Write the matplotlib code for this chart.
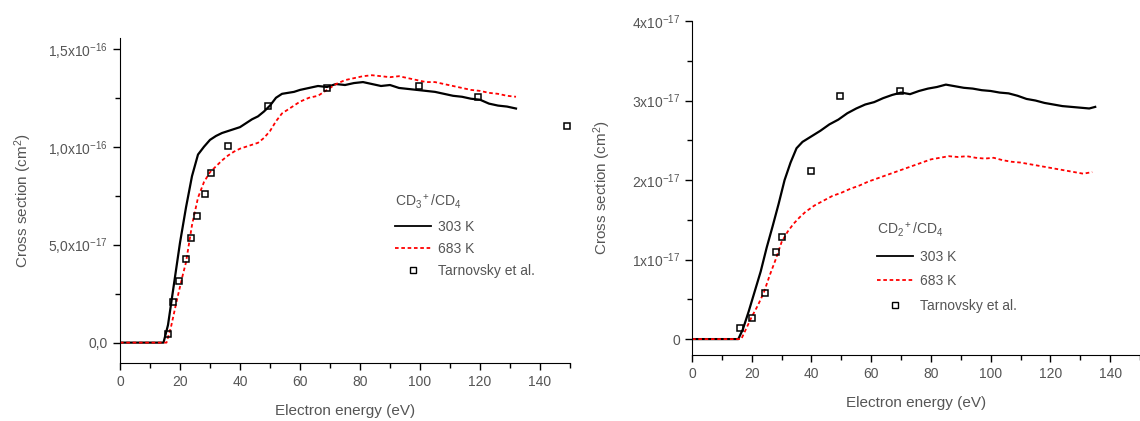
import matplotlib
matplotlib.use("Agg")
from matplotlib import pyplot as plt
from matplotlib.lines import Line2D
import numpy as np

plt.rcParams['font.family'] = ['Liberation Sans', 'DejaVu Sans']
plt.rcParams['mathtext.fontset'] = 'custom'
plt.rcParams['mathtext.rm'] = 'Liberation Sans'
plt.rcParams['mathtext.it'] = 'Liberation Sans'

# ---- CD3+/CD4 (left), cross section in units of 1e-17 cm^2 ----
e_cd3_303 = [0, 5, 10, 14.5, 16, 18, 20, 22, 24, 26, 28, 30, 32, 34, 36, 38, 40, 42, 44, 46, 48,
             50, 52, 54, 56, 58, 60, 63, 66, 69, 72, 75, 78, 81, 84, 87, 90, 93, 96, 99, 102,
             105, 108, 111, 114, 117, 120, 123, 126, 129, 132]
s_cd3_303 = [0, 0, 0, 0, 0.9, 3.0, 5.1, 6.9, 8.5, 9.6, 10.0, 10.35, 10.55, 10.7, 10.8, 10.9, 11.0,
             11.2, 11.4, 11.55, 11.8, 12.1, 12.5, 12.7, 12.75, 12.8, 12.9, 13.0, 13.1, 13.05, 13.2,
             13.15, 13.25, 13.3, 13.2, 13.1, 13.15, 13.0, 12.95, 12.9, 12.85, 12.8, 12.7, 12.6,
             12.55, 12.45, 12.4, 12.2, 12.1, 12.05, 11.95]

e_cd3_683 = [0, 5, 10, 15.5, 17, 19, 21, 22, 24, 26, 28, 30, 32, 34, 36, 38, 40, 42, 44, 46, 48,
             50, 52, 54, 56, 58, 60, 63, 66, 69, 72, 75, 78, 81, 84, 87, 90, 93, 96, 99, 102,
             105, 108, 111, 114, 117, 120, 123, 126, 129, 132]
s_cd3_683 = [0, 0, 0, 0, 0.8, 2.2, 3.5, 4.1, 6.0, 7.4, 8.2, 8.7, 9.0, 9.3, 9.55, 9.75, 9.9, 10.0,
             10.1, 10.2, 10.45, 10.8, 11.3, 11.7, 11.9, 12.1, 12.3, 12.5, 12.6, 12.9, 13.2, 13.4,
             13.5, 13.6, 13.65, 13.6, 13.55, 13.6, 13.5, 13.4, 13.3, 13.3, 13.2, 13.1, 13.0, 12.9,
             12.85, 12.75, 12.7, 12.6, 12.55]

e_cd3_tarn = [16.1, 17.7, 19.7, 21.9, 23.7, 25.6, 28.2, 30.2, 36.0, 49.4, 68.9, 99.7, 119.4, 149.0]
s_cd3_tarn = [0.43, 2.09, 3.16, 4.25, 5.36, 6.46, 7.57, 8.66, 10.04, 12.08, 12.98, 13.1, 12.55, 11.05]

# ---- CD2+/CD4 (right), units of 1e-17 cm^2 ----
e_cd2_303 = [0, 5, 10, 15.5, 17, 19, 21, 23, 25, 27, 29, 31, 33, 35, 37, 40, 43, 46, 49, 52, 55,
             58, 61, 64, 67, 70, 73, 76, 79, 82, 85, 88, 91, 94, 97, 100, 103, 106, 109, 112, 115,
             118, 121, 124, 127, 130, 133, 135]
s_cd2_303 = [0, 0, 0, 0, 0.12, 0.35, 0.6, 0.85, 1.15, 1.42, 1.7, 2.0, 2.22, 2.4, 2.48, 2.55, 2.62,
             2.7, 2.76, 2.84, 2.9, 2.95, 2.98, 3.03, 3.07, 3.1, 3.08, 3.12, 3.15, 3.17, 3.2, 3.18,
             3.16, 3.15, 3.13, 3.12, 3.1, 3.09, 3.06, 3.02, 3.0, 2.97, 2.95, 2.93, 2.92, 2.91, 2.9,
             2.92]

e_cd2_683 = [0, 5, 10, 16.5, 18, 20, 22, 24, 26, 28, 30, 32, 34, 36, 38, 41, 44, 47, 50, 53, 56,
             59, 62, 65, 68, 71, 74, 77, 80, 83, 86, 89, 92, 95, 98, 101, 104, 107, 110, 113, 116,
             119, 122, 125, 128, 131, 134]
s_cd2_683 = [0, 0, 0, 0, 0.12, 0.28, 0.42, 0.58, 0.8, 1.0, 1.22, 1.35, 1.45, 1.53, 1.6, 1.68, 1.74,
             1.8, 1.84, 1.89, 1.93, 1.98, 2.02, 2.06, 2.1, 2.14, 2.18, 2.22, 2.26, 2.28, 2.3, 2.29,
             2.3, 2.28, 2.27, 2.28, 2.25, 2.23, 2.22, 2.2, 2.18, 2.16, 2.14, 2.12, 2.1, 2.08, 2.1]

e_cd2_tarn = [16.1, 20.0, 24.5, 28.1, 30.1, 40.0, 49.6, 69.5]
s_cd2_tarn = [0.14, 0.27, 0.58, 1.10, 1.29, 2.11, 3.06, 3.12]

left_yticks = [0, 5, 10, 15]
left_ylabels = ['0,0', '5,0x10$^{-17}$', '1,0x10$^{-16}$', '1,5x10$^{-16}$']
right_yticks = [0, 1, 2, 3, 4]
right_ylabels = ['0', '1x10$^{-17}$', '2x10$^{-17}$', '3x10$^{-17}$', '4x10$^{-17}$']

grey = '#555555'
W, H = 1140, 421
fig = plt.figure(figsize=(W / 100, H / 100), dpi=100)


def box(x0, y0, x1, y1):
    # pixel box (top-left origin) -> figure fraction
    return [x0 / W, 1 - y1 / H, (x1 - x0) / W, (y1 - y0) / H]


def style(ax, xmax, yticks, ylabels, ymin, ymax, yminor, ylpad):
    for s in ['top', 'right']:
        ax.spines[s].set_visible(False)
    ax.set_xlim(0, xmax)
    ax.set_ylim(ymin * 1e-17, ymax * 1e-17)
    ax.set_xticks(range(0, 141, 20))
    ax.set_xticks(range(10, 151, 20), minor=True)
    ax.set_yticks([t * 1e-17 for t in yticks])
    ax.set_yticklabels(ylabels)
    ax.set_yticks([t * 1e-17 for t in yminor], minor=True)
    ax.tick_params(which='both', direction='out', colors='black', labelcolor=grey,
                   labelsize=10, width=1)
    ax.tick_params(which='major', length=5)
    ax.tick_params(which='minor', length=3.5)
    ax.set_xlabel('Electron energy (eV)', color=grey, fontsize=11, labelpad=11)
    ax.set_ylabel('Cross section (cm$^2$)', color=grey, fontsize=11, labelpad=ylpad)


def legend(ax, title, anchor, spacing):
    handles = [Line2D([], [], color='black', lw=1.3),
               Line2D([], [], color='red', lw=1.3, linestyle=(0, (2, 1.5))),
               Line2D([], [], color='black', lw=0, marker='s', markersize=4.5,
                      markerfacecolor='white', markeredgewidth=1)]
    leg = ax.legend(handles, ['303 K', '683 K', 'Tarnovsky et al.'], title=title,
                    frameon=False, loc='upper left', bbox_to_anchor=anchor,
                    bbox_transform=fig.transFigure, fontsize=10, title_fontsize=10,
                    labelspacing=spacing, handlelength=2.6, handletextpad=0.5,
                    alignment='left', borderpad=0)
    for t in leg.get_texts():
        t.set_color(grey)
    leg.get_title().set_color(grey)


ax1 = fig.add_axes(box(120, 38, 570, 363))
ax1.plot(e_cd3_303, np.array(s_cd3_303) * 1e-17, color='black', lw=1.6)
ax1.plot(e_cd3_683, np.array(s_cd3_683) * 1e-17, color='red', lw=1.3, linestyle=(0, (2, 1.5)))
ax1.plot(e_cd3_tarn, np.array(s_cd3_tarn) * 1e-17, lw=0, marker='s', markersize=5,
         markerfacecolor='none', markeredgecolor='black', markeredgewidth=1.1, clip_on=False)
style(ax1, 150, left_yticks, left_ylabels, -1.04, 15.55, [2.5, 7.5, 12.5], 10)
legend(ax1, 'CD$_3$$^+$/CD$_4$', (388 / W, 1 - 186 / H), 0.6)

ax2 = fig.add_axes(box(692, 21, 1140, 355))
ax2.plot(e_cd2_303, np.array(s_cd2_303) * 1e-17, color='black', lw=1.6)
ax2.plot(e_cd2_683, np.array(s_cd2_683) * 1e-17, color='red', lw=1.3, linestyle=(0, (2, 1.5)))
ax2.plot(e_cd2_tarn, np.array(s_cd2_tarn) * 1e-17, lw=0, marker='s', markersize=5,
         markerfacecolor='none', markeredgecolor='black', markeredgewidth=1.1)
style(ax2, 147.4, right_yticks, right_ylabels, -0.2, 4.0, [0.5, 1.5, 2.5, 3.5], 14)
legend(ax2, 'CD$_2$$^+$/CD$_4$', (870 / W, 1 - 214 / H), 0.75)

fig.savefig('out.png', dpi=100)
